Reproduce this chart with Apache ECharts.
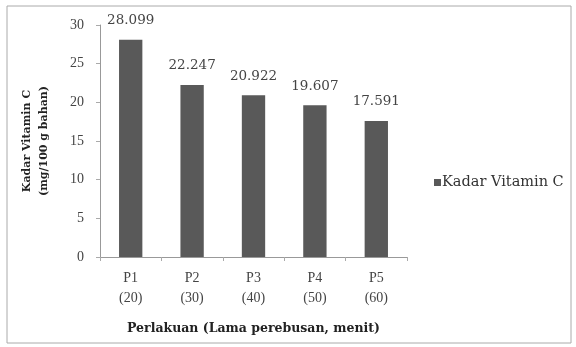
<!DOCTYPE html>
<html><head><meta charset="utf-8">
<script src="https://cdn.jsdelivr.net/npm/echarts@6/dist/echarts.min.js"></script>
<style>html,body{margin:0;padding:0;background:#fff}#c{width:576px;height:347px}</style>
</head><body><div id="c"></div>
<script>
const categories = ['P1\n(20)', 'P2\n(30)', 'P3\n(40)', 'P4\n(50)', 'P5\n(60)'];
const values = [28.099, 22.247, 20.922, 19.607, 17.591];
const valueLabels = ['28.099', '22.247', '20.922', '19.607', '17.591'];
const seriesName = 'Kadar Vitamin C';
const yTicks = [0, 5, 10, 15, 20, 25, 30];

const chart = echarts.init(document.getElementById('c'), null, {renderer: 'canvas'});
const serif = '"Liberation Serif", "DejaVu Serif", serif';
const wide = '"DejaVu Serif", serif';
chart.setOption({
  animation: false,
  backgroundColor: '#fff',
  graphic: [{
    type: 'rect', shape: {x: 7, y: 6, width: 564, height: 337},
    style: {fill: 'none', stroke: '#aaa', lineWidth: 1}, silent: true
  }],
  grid: {left: 100, right: 169, top: 25, bottom: 90},
  legend: {
    data: [seriesName], left: 429, top: 170, orient: 'vertical',
    itemWidth: 7, itemHeight: 7, itemGap: 4,
    icon: 'rect',
    textStyle: {fontFamily: wide, fontSize: 14.5, color: '#333', padding: [0,0,0,-4]}
  },
  xAxis: {
    type: 'category', data: categories,
    name: 'Perlakuan (Lama perebusan, menit)', nameLocation: 'middle', nameGap: 65,
    nameTextStyle: {fontFamily: wide, fontSize: 12.5, fontWeight: 'bold', color: '#222'},
    axisLine: {lineStyle: {color: '#999'}},
    axisTick: {show: true, length: 4, lineStyle: {color: '#aaa'}},
    axisLabel: {fontFamily: serif, fontSize: 14, color: '#444', lineHeight: 20, margin: 11}
  },
  yAxis: {
    type: 'value', min: yTicks[0], max: yTicks[yTicks.length-1], interval: 5,
    name: 'Kadar Vitamin C\n(mg/100 g bahan)', nameLocation: 'middle', nameGap: 47,
    nameTextStyle: {fontFamily: wide, fontSize: 11, fontWeight: 'bold', color: '#222', lineHeight: 17},
    axisLine: {show: true, lineStyle: {color: '#999'}},
    axisTick: {show: true, length: 4, lineStyle: {color: '#aaa'}},
    splitLine: {show: false},
    axisLabel: {fontFamily: serif, fontSize: 14, color: '#444', margin: 16}
  },
  series: [{
    name: seriesName, type: 'bar', data: values,
    barCategoryGap: '62%',
    itemStyle: {color: '#595959'},
    label: {
      show: true, position: 'top', distance: 12,
      fontFamily: wide, fontSize: 13.5, color: '#444',
      formatter: p => valueLabels[p.dataIndex]
    }
  }]
});
</script></body></html>
